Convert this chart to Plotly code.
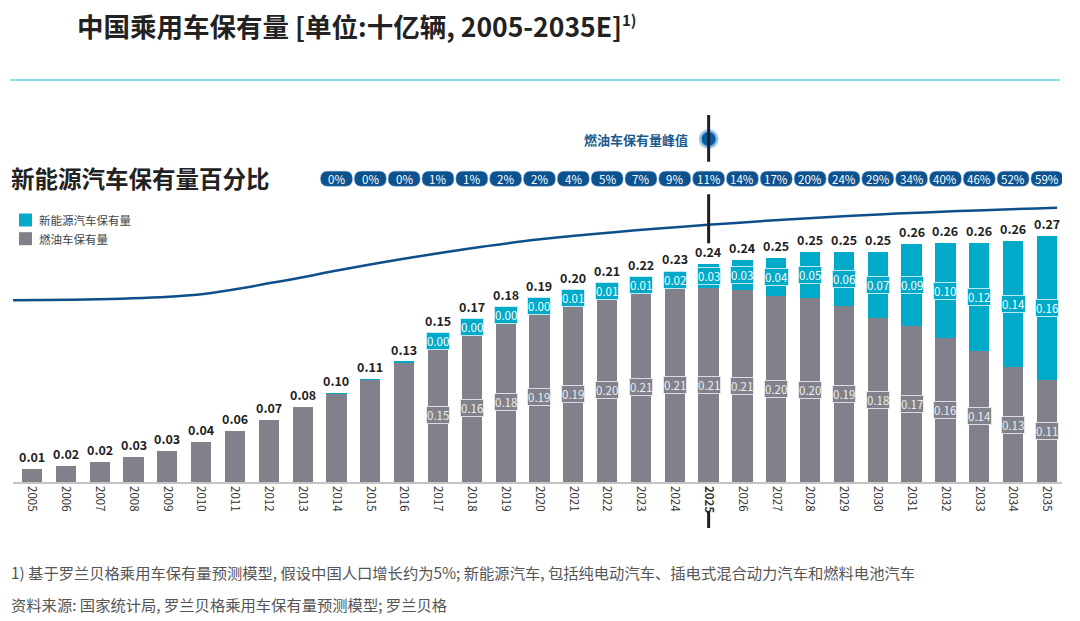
import plotly.graph_objects as go

# ---------------- data ----------------
YEARS = list(range(2005, 2036))
# 燃油车保有量 (十亿辆)
ICE = [0.014, 0.018, 0.022, 0.027, 0.034, 0.044, 0.056, 0.068, 0.082, 0.097,
       0.112, 0.131, 0.147, 0.162, 0.176, 0.186, 0.194, 0.202, 0.209, 0.212,
       0.213, 0.211, 0.204, 0.202, 0.193, 0.180, 0.171, 0.158, 0.144, 0.126,
       0.112]
# 新能源汽车保有量 (十亿辆)
NEV = [0, 0, 0, 0, 0, 0, 0, 0, 0, 0.0003,
       0.0008, 0.0012, 0.003, 0.004, 0.004, 0.004, 0.010, 0.011, 0.014, 0.020,
       0.026, 0.033, 0.042, 0.051, 0.060, 0.072, 0.090, 0.104, 0.118, 0.138,
       0.158]
# 新能源汽车保有量百分比 (2014-2035)
SHARE_YEARS = list(range(2014, 2036))
SHARE = [0, 0, 0, 1, 1, 2, 2, 4, 5, 7, 9, 11, 14, 17, 20, 24, 29, 34, 40, 46, 52, 59]
# trend curve
CURVE_X = [2004.44, 2009.67, 2012.18, 2014.22, 2016.26, 2018.30, 2020.02,
           2024.98, 2030.18, 2035.30]
CURVE_Y = [0.1995, 0.2049, 0.2192, 0.2335, 0.2466, 0.2582, 0.2664,
           0.2823, 0.2939, 0.3010]
LABEL_START = 2017

TITLE = "中国乘用车保有量 [单位:十亿辆, 2005-2035E]"
TITLE_SUP = "1)"
SUBTITLE = "新能源汽车保有量百分比"
NAME_NEV = "新能源汽车保有量"
NAME_ICE = "燃油车保有量"
PEAK_LABEL = "燃油车保有量峰值"
NOTE1 = "1) 基于罗兰贝格乘用车保有量预测模型, 假设中国人口增长约为5%; 新能源汽车, 包括纯电动汽车、插电式混合动力汽车和燃料电池汽车"
NOTE2 = "资料来源: 国家统计局, 罗兰贝格乘用车保有量预测模型; 罗兰贝格"

# ---------------- style ----------------
FONT = "Noto Sans CJK SC"
C_ICE = "#80818b"
C_NEV = "#00aac8"
C_BLUE = "#0b528f"
C_LINE = "#0d4f8b"
W, H = 1080, 621
ML, MR, MT, MB = 13, 18, 100, 139
PW, PH = W - ML - MR, H - MT - MB
X_RANGE = [2004.438, 2035.445]
Y_RANGE = [0, 0.4193]
PX_PER_UNIT = PH / (Y_RANGE[1] - Y_RANGE[0])


def px_x(px):
    return (px - ML) / PW


def px_y(py):
    return (H - MB - py) / PH


def dy(pixels):
    return pixels / PX_PER_UNIT


TOTAL = [a + b for a, b in zip(ICE, NEV)]
PEAK_YEAR = YEARS[ICE.index(max(ICE))]

fig = go.Figure()
fig.add_trace(go.Bar(x=YEARS, y=ICE, name=NAME_ICE, marker_color=C_ICE,
                     marker_line_width=0, width=0.6, showlegend=False))
fig.add_trace(go.Bar(x=YEARS, y=NEV, name=NAME_NEV, marker_color=C_NEV,
                     marker_line_width=0, width=0.6, showlegend=False))
fig.add_trace(go.Scatter(x=CURVE_X, y=CURVE_Y, mode="lines", showlegend=False,
                         line=dict(color=C_LINE, width=2.5, shape="spline"),
                         hoverinfo="skip"))

ann = []
shapes = []

# total labels + inner labels
for yr, g, n, t in zip(YEARS, ICE, NEV, TOTAL):
    if yr >= LABEL_START:
        ann.append(dict(x=yr, y=g / 2, xref="x", yref="y", text=f"{g:.2f}",
                        showarrow=False, font=dict(family=FONT, size=11.5, color="#eeeeee"),
                        bgcolor=C_ICE, bordercolor="rgba(235,235,240,0.85)",
                        borderwidth=1, borderpad=0))
        ny = max(g + n / 2, g + dy(7))
        ann.append(dict(x=yr, y=ny, xref="x", yref="y", text=f"{n:.2f}",
                        showarrow=False, font=dict(family=FONT, size=11.5, color="#ffffff"),
                        bgcolor=C_NEV, bordercolor="rgba(210,240,246,0.9)",
                        borderwidth=1, borderpad=0))
        ty = max(t, g + dy(15))
    else:
        ty = t
    ann.append(dict(x=yr, y=ty, xref="x", yref="y", text=f"<b>{t:.2f}</b>",
                    showarrow=False, yanchor="bottom", yshift=1,
                    font=dict(family=FONT, size=12.5, color="#222222")))

# percentage pills
PILL_Y = dy(482 - 178.7)
pill_path = ("M -9,-7.5 H 9 Q 16,-7.5 16,0 Q 16,7.5 9,7.5 H -9 "
             "Q -16,7.5 -16,0 Q -16,-7.5 -9,-7.5 Z")
for yr, s in zip(SHARE_YEARS, SHARE):
    shapes.append(dict(type="path", xref="x", yref="y", xsizemode="pixel",
                       ysizemode="pixel", xanchor=yr, yanchor=PILL_Y,
                       path=pill_path, fillcolor=C_BLUE,
                       line=dict(color="rgba(120,160,200,0.6)", width=0.8)))
    ann.append(dict(x=yr, y=PILL_Y, xref="x", yref="y", text=f"{s}%",
                    showarrow=False, font=dict(family=FONT, size=11.5, color="#ffffff")))

# peak marker vertical line
for y0, y1 in [(115, 161.7), (194.3, 243.3)]:
    shapes.append(dict(type="line", xref="x", yref="y", x0=PEAK_YEAR, x1=PEAK_YEAR,
                       y0=dy(482 - y0), y1=dy(482 - y1),
                       line=dict(color="#1e1e1e", width=3)))
shapes.append(dict(type="line", xref="x", yref="paper", x0=PEAK_YEAR, x1=PEAK_YEAR,
                   y0=px_y(511), y1=px_y(528), line=dict(color="#1e1e1e", width=3)))
MARK_Y = dy(482 - 139)
fig.add_trace(go.Scatter(x=[PEAK_YEAR], y=[MARK_Y], mode="markers", showlegend=False,
                         marker=dict(size=17, color="#0b5a9e",
                                     line=dict(color="rgba(150,200,240,0.85)", width=3)),
                         hoverinfo="skip"))
ann.append(dict(x=PEAK_YEAR, y=MARK_Y, xref="x", yref="y", text=f"<b>{PEAK_LABEL}</b>",
                showarrow=False, xanchor="right", xshift=-19,
                font=dict(family=FONT, size=13, color="#1b5a8e")))

# legend (manual)
for name, col, cy in [(NAME_NEV, C_NEV, 220), (NAME_ICE, C_ICE, 238.7)]:
    shapes.append(dict(type="rect", xref="paper", yref="paper",
                       x0=px_x(19), x1=px_x(32), y0=px_y(cy - 6.5), y1=px_y(cy + 6.5),
                       fillcolor=col, line=dict(width=0)))
    ann.append(dict(x=px_x(37), y=px_y(cy), xref="paper", yref="paper", text=name,
                    showarrow=False, xanchor="left", yanchor="middle",
                    font=dict(family=FONT, size=11.5, color="#444444")))

# title, subtitle, notes
ann.append(dict(x=px_x(75), y=px_y(25), xref="paper", yref="paper",
                text=f"<b>{TITLE}<sup><span style='font-size:15px'>{TITLE_SUP}</span></sup></b>",
                showarrow=False, xanchor="left", yanchor="middle",
                font=dict(family=FONT, size=26.5, color="#222222")))
ann.append(dict(x=px_x(9), y=px_y(178), xref="paper", yref="paper", text=f"<b>{SUBTITLE}</b>",
                showarrow=False, xanchor="left", yanchor="middle",
                font=dict(family=FONT, size=23.5, color="#222222")))
ann.append(dict(x=px_x(9), y=px_y(572), xref="paper", yref="paper", text=NOTE1,
                showarrow=False, xanchor="left", yanchor="middle",
                font=dict(family=FONT, size=15.3, color="#555555")))
ann.append(dict(x=px_x(9), y=px_y(604), xref="paper", yref="paper", text=NOTE2,
                showarrow=False, xanchor="left", yanchor="middle",
                font=dict(family=FONT, size=15.3, color="#555555")))
shapes.append(dict(type="line", xref="paper", yref="paper", x0=px_x(10), x1=px_x(1060),
                   y0=px_y(80), y1=px_y(80), line=dict(color="#5fd3e6", width=1.5)))

ticktext = [f"<b>{y}</b>" if y == PEAK_YEAR else str(y) for y in YEARS]

fig.update_layout(
    width=W, height=H,
    margin=dict(l=ML, r=MR, t=MT, b=MB, autoexpand=False),
    paper_bgcolor="white", plot_bgcolor="white",
    barmode="stack",
    font=dict(family=FONT, color="#333333"),
    showlegend=False,
    xaxis=dict(range=X_RANGE, tickmode="array", tickvals=YEARS, ticktext=ticktext,
               tickangle=90, tickfont=dict(family=FONT, size=11.5, color="#333333"),
               showgrid=False, zeroline=False, showline=True, linecolor="#c4c4c4",
               linewidth=1.5, ticks="", fixedrange=True, automargin=False),
    yaxis=dict(range=Y_RANGE, visible=False, showgrid=False, zeroline=False,
               fixedrange=True),
    annotations=ann,
    shapes=shapes,
)

fig.write_html("out.html")
